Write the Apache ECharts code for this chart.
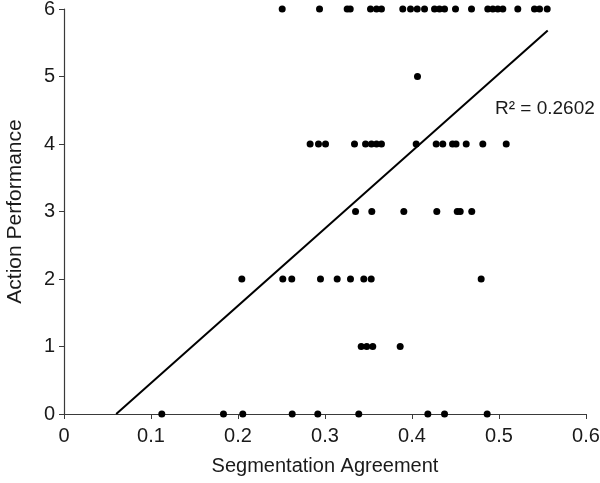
<!DOCTYPE html>
<html>
<head>
<meta charset="utf-8">
<script src="https://cdn.jsdelivr.net/npm/echarts@6/dist/echarts.min.js"></script>
<style>html,body{margin:0;padding:0;background:#fff;}#c{width:600px;height:483px;}</style>
</head>
<body>
<div id="c"></div>
<script>
// Segmentation Agreement values for each Action Performance level
const perf6 = [0.2508,0.2937,0.3255,0.3290,0.3523,0.3592,0.3649,0.3894,0.3983,0.4060,0.4144,0.4259,0.4316,0.4374,0.4500,0.4684,0.4871,0.4929,0.4986,0.5044,0.5216,0.5408,0.5466,0.5554];
const perf5 = [0.4063];
const perf4 = [0.2829,0.2925,0.3006,0.3339,0.3466,0.3534,0.3592,0.3649,0.4048,0.4278,0.4354,0.4466,0.4506,0.4623,0.4814,0.5083];
const perf3 = [0.3351,0.3538,0.3906,0.4285,0.4520,0.4554,0.4687];
const perf2 = [0.2044,0.2515,0.2618,0.2948,0.3140,0.3293,0.3446,0.3531,0.4795];
const perf1 = [0.3416,0.3480,0.3549,0.3864];
const perf0 = [0.1124,0.1833,0.2055,0.2623,0.2917,0.3388,0.4182,0.4374,0.4864];
const trendX = [0.060, 0.556];
const trendY = [0, 5.68];
const rSquaredText = 'R² = 0.2602';
const xTickLabels = ['0','0.1','0.2','0.3','0.4','0.5','0.6'];
const yTickLabels = ['0','1','2','3','4','5','6'];

const levels = [[0,perf0],[1,perf1],[2,perf2],[3,perf3],[4,perf4],[5,perf5],[6,perf6]];
const points = [];
levels.forEach(([y, xs]) => xs.forEach(x => points.push([x, y])));
const trend = trendX.map((x, i) => [x, trendY[i]]);

const FONT = 'Liberation Sans, Arial, sans-serif';
const TXT = '#1a1a1a';
const chart = echarts.init(document.getElementById('c'), null, {renderer: 'canvas'});
chart.setOption({
  animation: false,
  backgroundColor: '#fff',
  grid: {left: 64, right: 14, top: 9, bottom: 69, containLabel: false, outerBoundsMode: 'none'},
  xAxis: {
    type: 'value', min: 0, max: 0.6, interval: 0.1,
    name: 'Segmentation Agreement', nameLocation: 'middle', nameGap: 42,
    nameTextStyle: {fontFamily: FONT, fontSize: 20, color: TXT},
    axisLine: {show: true, lineStyle: {color: '#3a3a3a', width: 1.2}},
    axisTick: {show: true, length: 5, lineStyle: {color: '#3a3a3a'}},
    axisLabel: {fontFamily: FONT, fontSize: 20, color: TXT, margin: 12,
      formatter: (v) => xTickLabels[Math.round(v * 10)]},
    splitLine: {show: false}
  },
  yAxis: {
    type: 'value', min: 0, max: 6, interval: 1,
    name: 'Action Performance', nameLocation: 'middle', nameGap: 38, nameRotate: 90,
    nameTextStyle: {fontFamily: FONT, fontSize: 21, color: TXT},
    axisLine: {show: true, lineStyle: {color: '#3a3a3a', width: 1.2}},
    axisTick: {show: true, length: 5, lineStyle: {color: '#3a3a3a'}},
    axisLabel: {fontFamily: FONT, fontSize: 20, color: TXT, margin: 9,
      formatter: (v) => yTickLabels[Math.round(v)]},
    splitLine: {show: false}
  },
  series: [
    {type: 'line', data: trend, symbol: 'none', lineStyle: {color: '#000', width: 2}, z: 2},
    {type: 'scatter', data: points, symbolSize: 7, itemStyle: {color: '#000', opacity: 1}, z: 3}
  ],
  graphic: [{
    type: 'text', left: 495, top: 99,
    style: {text: rSquaredText, fontFamily: FONT, fontSize: 19, fill: TXT}
  }]
});
</script>
</body>
</html>
